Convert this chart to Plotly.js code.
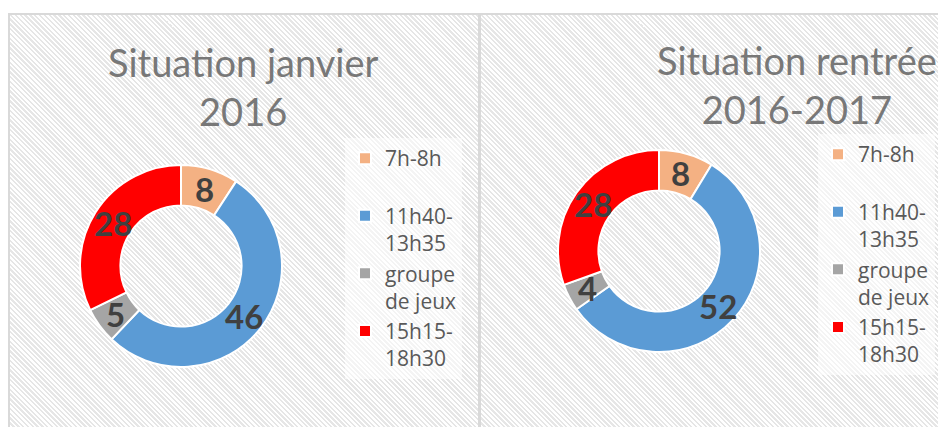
<!DOCTYPE html>
<html>
<head>
<meta charset="utf-8">
<script src="https://cdn.plot.ly/plotly-3.0.1.min.js"></script>
<style>
  html, body { margin: 0; padding: 0; background: #ffffff; }
  #wrap { position: relative; width: 938px; height: 427px; overflow: hidden; }
  .panel {
    position: absolute; box-sizing: border-box; border: 2px solid #d9d9d9;
    background: repeating-linear-gradient(45deg, #ffffff 0px, #ffffff 1.7px, #e6e6e6 1.7px, #e6e6e6 3.4px);
  }
  #p1 { left: 8px; top: 13px; width: 472px; height: 430px; }
  #p2 { left: 479px; top: 13px; width: 470px; height: 430px; }
  .chart { position: absolute; top: 0; height: 427px; }
  #chart1 { left: 0; width: 480px; }
  #chart2 { left: 480px; width: 458px; }
</style>
</head>
<body>
<div id="wrap">
  <div class="panel" id="p1"></div>
  <div class="panel" id="p2"></div>
  <div class="chart" id="chart1"></div>
  <div class="chart" id="chart2"></div>
</div>
<script>
// ---- data ----
const categories = ['7h-8h', '11h40-13h35', 'groupe de jeux', '15h15-18h30'];
const legendLabels = ['7h-8h<br>\u00a0', '11h40-<br>13h35', 'groupe<br>de jeux', '15h15-<br>18h30'];
const valuesJanvier2016 = [8, 46, 5, 28];
const valuesRentree2016 = [8, 52, 4, 28];
const titleJanvier = 'Situation janvier<br>2016';
const titleRentree = 'Situation rentrée<br>2016-2017';
const colors = ['#F4B183', '#5B9BD5', '#A5A5A5', '#FF0000'];

// ---- layout constants (pixels inside each chart div) ----
const H = 427;
const R = 101, HOLE = 0.6;

function drawDonut(divId, W, values, title, g) {
  const trace = {
    type: 'pie',
    labels: legendLabels,
    values: values,
    sort: false,
    direction: 'clockwise',
    rotation: 0,
    hole: HOLE,
    textinfo: 'none',
    hoverinfo: 'label+value',
    marker: { colors: colors, line: { color: '#ffffff', width: 2 } },
    domain: { x: [(g.cx - R) / W, (g.cx + R) / W], y: [1 - (g.cy + R) / H, 1 - (g.cy - R) / H] }
  };
  const annotations = [];
  const total = values.reduce((a, b) => a + b, 0);
  let cum = 0;
  const rm = R * (1 + HOLE) / 2;
  values.forEach(v => {
    const ang = (cum + v / 2) / total * 2 * Math.PI;
    cum += v;
    annotations.push({
      x: (g.cx + rm * Math.sin(ang)) / W,
      y: 1 - (g.cy - rm * Math.cos(ang)) / H,
      xref: 'paper', yref: 'paper', xanchor: 'center', yanchor: 'middle',
      text: String(v), showarrow: false,
      font: { family: 'Lato, sans-serif', size: 33, color: '#404040', weight: 'bold' }
    });
  });
  annotations.push({
    x: g.tx / W, y: 1 - g.ty / H, xref: 'paper', yref: 'paper',
    xanchor: 'center', yanchor: 'middle', showarrow: false,
    text: title,
    font: { family: 'Lato, sans-serif', size: 38, color: '#787878' }
  });
  const layout = {
    width: W, height: H,
    margin: { l: 0, r: 0, t: 0, b: 0 },
    paper_bgcolor: 'rgba(0,0,0,0)',
    plot_bgcolor: 'rgba(0,0,0,0)',
    showlegend: true,
    legend: {
      x: g.lx / W, y: 1 - g.ly / H, xanchor: 'left', yanchor: 'top',
      bgcolor: 'rgba(255,255,255,0.55)', borderwidth: 0,
      valign: 'top', orientation: 'v',
      font: { family: '"Open Sans", sans-serif', size: 21, color: '#595959' }
    },
    annotations: annotations
  };
  Plotly.newPlot(divId, [trace], layout, { displayModeBar: false, staticPlot: true });
}

drawDonut('chart1', 480, valuesJanvier2016, titleJanvier, { cx: 181, cy: 266, tx: 243, ty: 86, lx: 345, ly: 138 });
drawDonut('chart2', 458, valuesRentree2016, titleRentree, { cx: 179, cy: 251, tx: 317, ty: 84, lx: 338, ly: 134 });
</script>
</body>
</html>
